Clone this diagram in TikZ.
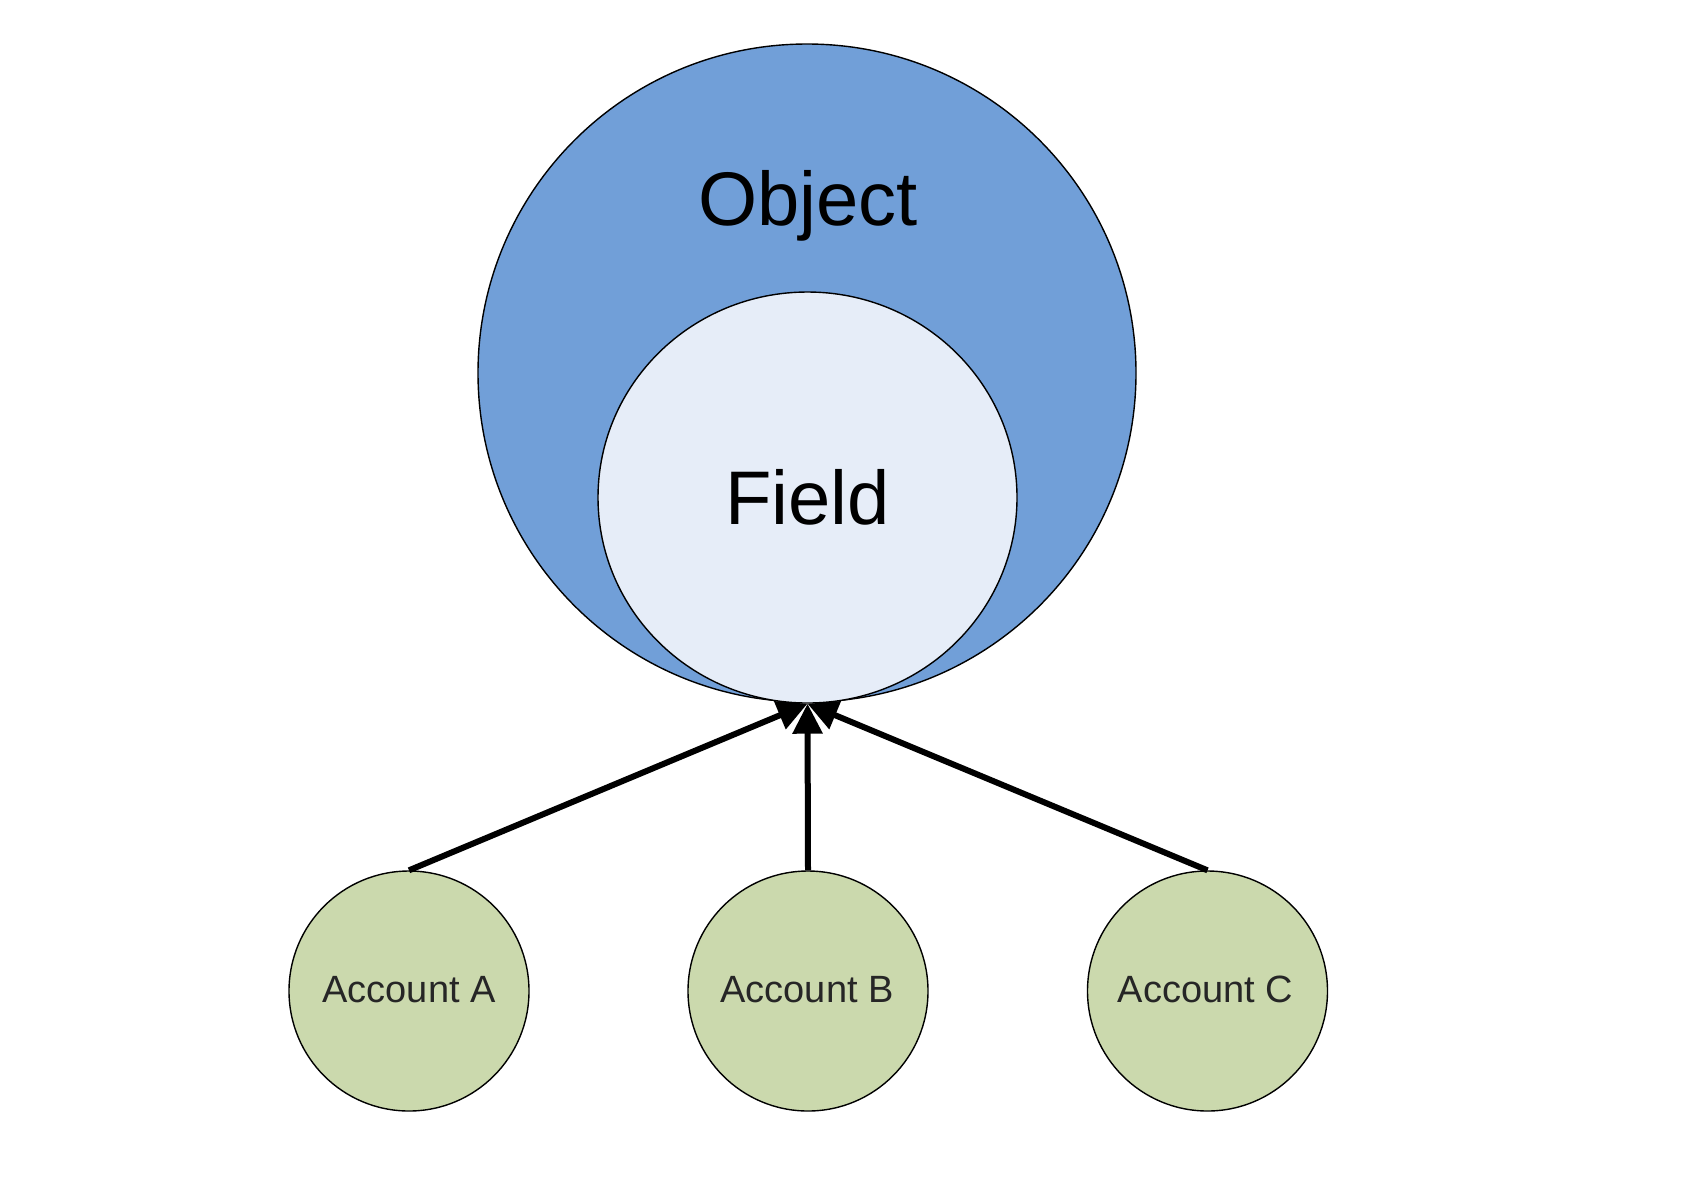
\documentclass[tikz,border=0pt]{standalone}
\usepackage{fontspec}
\setmainfont{Liberation Sans}
\usetikzlibrary{arrows.meta,shapes.geometric}
\definecolor{objblue}{RGB}{113,159,216}
\definecolor{fieldblue}{RGB}{230,237,248}
\definecolor{accgreen}{RGB}{203,217,173}
\tikzset{
  circ/.style={circle, draw=black, line width=0.7pt, inner sep=0pt},
  ell/.style={ellipse, draw=black, line width=0.7pt, inner sep=0pt},
  biglabel/.style={anchor=base, inner sep=0pt, font=\fontsize{38}{40}\selectfont},
  acclabel/.style={anchor=base, inner sep=0pt, font=\fontsize{19}{21}\selectfont, text=black!85},
  arr/.style={line width=3pt, -{Triangle[length=15pt,width=14.5pt]}}
}
\begin{document}
\begin{tikzpicture}[x=0.5pt,y=-0.5pt]
\useasboundingbox (0,0) rectangle (1686,1180);
\node[circ, fill=objblue, minimum size=329pt] (obj) at (807,373) {};
\node[ell, fill=fieldblue, minimum width=209.5pt, minimum height=205.5pt] (field) at (807.5,497.5) {};
\node[biglabel] (objlabel) at (808,225) {Object};
\node[biglabel] (fieldlabel) at (807.5,524) {Field};
\node[circ, fill=accgreen, minimum size=120pt] (accA) at (409,991) {};
\node[circ, fill=accgreen, minimum size=120pt] (accB) at (808,991) {};
\node[circ, fill=accgreen, minimum size=120pt] (accC) at (1207.5,991) {};
\node[acclabel] (accAl) at (409,1002) {Account A};
\node[acclabel] (accBl) at (807,1002) {Account B};
\node[acclabel] (accCl) at (1205.5,1002) {Account C};
\draw[arr] (accA.north) -- (field.south);
\draw[arr] (accB.north) -- (field.south);
\draw[arr] (accC.north) -- (field.south);
\end{tikzpicture}
\end{document}
